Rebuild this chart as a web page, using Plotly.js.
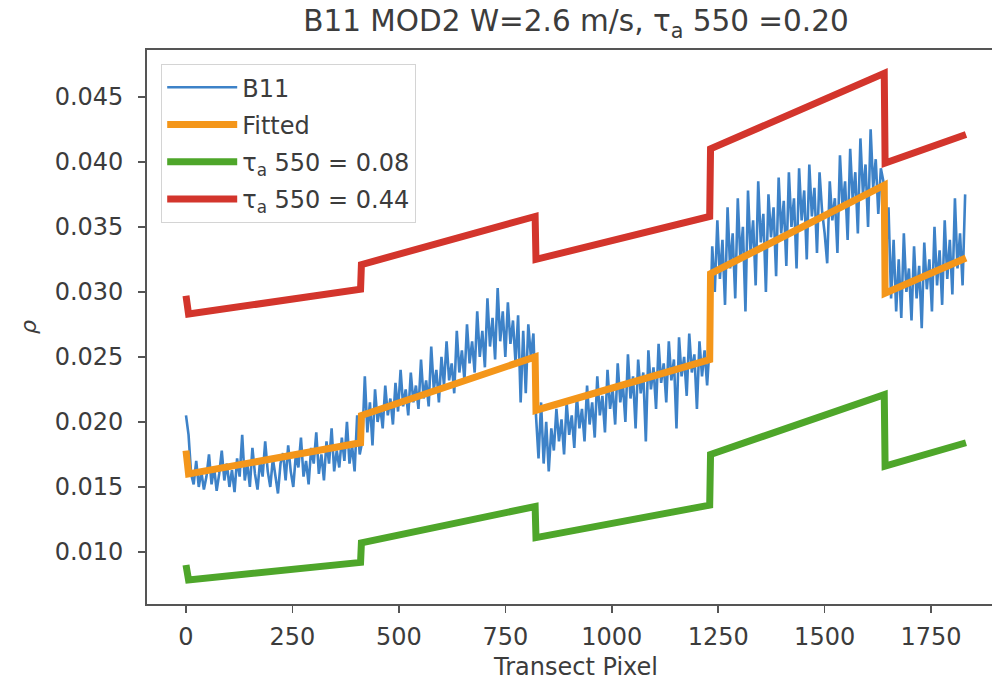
<!DOCTYPE html>
<html>
<head>
<meta charset="utf-8">
<script src="https://cdn.plot.ly/plotly-3.0.1.min.js"></script>
<style>
html,body{margin:0;padding:0;overflow:hidden;background:#fff;}
#chart{width:1010px;height:682px;}
</style>
</head>
<body>
<div id="chart"></div>
<script>
// B11 measured reflectance, sampled every 6 transect pixels, in units of 1e-4
const b11Step = 6;
const b11E4 = [
205,190,160,152,170,150,162,148,158,175,152,165,147,160,178,155,168,150,163,146,
172,158,190,155,168,150,180,160,148,170,158,185,162,150,172,160,145,168,176,155,
182,162,150,175,165,188,158,170,152,180,168,192,160,175,155,185,168,195,162,178,
165,188,170,200,168,182,162,205,175,
185,235,192,215,182,225,200,212,195,228,205,218,198,230,208,240,212,225,205,238,
215,228,210,248,218,232,212,258,225,240,215,250,228,262,232,245,222,270,238,255,
232,275,245,262,238,285,250,270,242,295,258,280,248,303,262,285,250,292,260,278,
245,282,215,270,222,275,250,268,
205,172,215,168,200,162,195,178,210,185,202,175,215,190,205,180,220,195,210,185,
228,198,215,188,235,205,220,192,240,210,225,198,245,215,230,200,252,218,235,195,
248,222,238,185,255,225,242,210,260,230,245,215,262,232,248,195,265,235,250,220,
268,238,252,210,262,235,255,228,
260,335,300,355,310,340,290,365,318,345,295,372,325,350,285,378,330,355,305,385,
338,360,300,375,342,365,312,388,345,370,320,392,350,372,318,395,355,378,325,398,
358,380,330,392,362,345,322,385,355,372,330,405,365,385,340,410,370,392,345,418,
375,398,350,425,380,402,360,395,
385,330,365,295,340,285,325,280,345,300,318,278,335,295,320,272,338,302,325,285,
350,305,332,290,355,310,340,298,372,318,345,305,375
];
const b11X = b11E4.map((v, i) => i * b11Step);
const b11Y = b11E4.map(v => v / 10000);

// Piecewise model curves (breakpoints)
const modelX   = [0, 6, 410, 412, 820, 822, 1230, 1232, 1640, 1642, 1832];
const fittedY  = [0.0178, 0.0160, 0.0184, 0.0205, 0.0250, 0.0209, 0.0248, 0.0314, 0.0382, 0.0299, 0.0326];
const tauLowY  = [0.0090, 0.00785, 0.0092, 0.0107, 0.0135, 0.0111, 0.0136, 0.0175, 0.0221, 0.0166, 0.0184];
const tauHighY = [0.0297, 0.0283, 0.0302, 0.0321, 0.0358, 0.0325, 0.0358, 0.0410, 0.0468, 0.0399, 0.0421];

const xTicks = [0, 250, 500, 750, 1000, 1250, 1500, 1750];
const yTicks = [0.010, 0.015, 0.020, 0.025, 0.030, 0.035, 0.040, 0.045];

const seriesNames = ['B11', 'Fitted', 'τ<sub>a</sub> 550 = 0.08', 'τ<sub>a</sub> 550 = 0.44'];
const titleText = 'B11 MOD2 W=2.6 m/s, τ<sub>a</sub> 550 =0.20';

const traces = [
  {x: b11X, y: b11Y, name: seriesNames[0], legendgroup: 'a', mode: 'lines',
   line: {color: '#3d82c8', width: 2.6}},
  {x: modelX, y: fittedY, name: seriesNames[1], legendgroup: 'b', mode: 'lines',
   line: {color: '#f4961a', width: 7}},
  {x: modelX, y: tauLowY, name: seriesNames[2], legendgroup: 'c', mode: 'lines',
   line: {color: '#4ea62a', width: 7}},
  {x: modelX, y: tauHighY, name: seriesNames[3], legendgroup: 'd', mode: 'lines',
   line: {color: '#d3352c', width: 7}}
];

const fam = 'DejaVu Sans, sans-serif';
const txt = '#3c3c3c';

const layout = {
  width: 1010, height: 682,
  margin: {l: 147, r: 5, t: 50, b: 78},
  paper_bgcolor: '#fff', plot_bgcolor: '#fff',
  font: {family: fam, size: 24, color: txt},
  showlegend: true,
  title: {text: titleText, x: 0.5, xref: 'paper', y: 1 - 21/682, yref: 'container',
          xanchor: 'center', yanchor: 'middle', font: {family: fam, size: 29.5, color: txt}},
  xaxis: {range: [-91.6, 1923.6], tickvals: xTicks, ticktext: xTicks.map(String),
          ticks: 'outside', ticklen: 7, tickwidth: 1.5, tickcolor: '#555',
          ticklabelstandoff: 3,
          tickfont: {family: fam, size: 24, color: txt},
          showline: true, mirror: true, linecolor: '#555', linewidth: 1.8,
          showgrid: false, zeroline: false,
          title: {text: 'Transect Pixel', standoff: 9, font: {family: fam, size: 24, color: txt}}},
  yaxis: {range: [0.0060, 0.0486], tickvals: yTicks, ticktext: yTicks.map(v => v.toFixed(3)),
          ticks: 'outside', ticklen: 7, tickwidth: 1.5, tickcolor: '#555',
          ticklabelstandoff: 10,
          tickfont: {family: fam, size: 24, color: txt},
          showline: true, mirror: true, linecolor: '#555', linewidth: 1.8,
          showgrid: false, zeroline: false,
          title: {text: '<i>ρ</i>', standoff: 12, font: {family: fam, size: 22, color: txt}}},
  legend: {x: 14/858, y: 1 - 14/554, xanchor: 'left', yanchor: 'top',
           bgcolor: '#fff', bordercolor: '#d4d4d4', borderwidth: 1.2,
           font: {family: fam, size: 24, color: txt},
           itemwidth: 70, tracegroupgap: 3}
};

Plotly.newPlot('chart', traces, layout, {displayModeBar: false, staticPlot: true});
</script>
</body>
</html>
